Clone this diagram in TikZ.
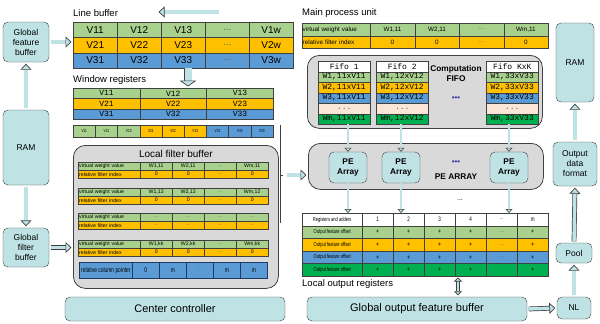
\documentclass[tikz,border=0pt]{standalone}
\usepackage{fontspec}
\setmainfont{Liberation Sans}
\setsansfont{Liberation Sans}
\setmonofont{Liberation Mono}
\usetikzlibrary{positioning,arrows.meta,calc}

\definecolor{cgreen}{HTML}{A9D18E}
\definecolor{corange}{HTML}{FFC000}
\definecolor{cblue}{HTML}{5B9BD5}
\definecolor{cdgreen}{HTML}{00B050}
\definecolor{cpink}{HTML}{FBE5D6}
\definecolor{cteal}{HTML}{BFE3E5}
\definecolor{cpanel}{HTML}{D9D9D9}
\definecolor{cline}{HTML}{404040}
\definecolor{cnavy}{HTML}{1F3864}
\definecolor{cdots}{HTML}{3333A0}

\newcommand{\skipdots}{\textcolor{black!60}{...}}
\newcommand{\squeeze}[1]{\scalebox{0.7}[1]{#1}}

\begin{document}
\begin{tikzpicture}[
	x=1pt, y=-1pt,
	font=\sffamily,
	unit/.style={
		draw=cline,
		fill=cteal,
		rounded corners=5pt,
		align=center,
		inner sep=1pt,
		font=\sffamily\fontsize{8.5}{10}\selectfont,
	},
	panel/.style={
		draw=cline,
		fill=cpanel,
		line width=0.8pt,
		rounded corners=12pt,
		anchor=north west,
	},
	cell/.style={
		draw=cline,
		inner sep=0pt,
		anchor=north west,
		font=\sffamily\fontsize{5.2}{6}\selectfont,
	},
	vcell/.style={cell, font=\sffamily\fontsize{10}{11}\selectfont},
	mcell/.style={cell, font=\ttfamily\fontsize{8}{9}\selectfont},
	lcell/.style={cell, text width=60pt, align=left},
	heading/.style={anchor=west, inner sep=1pt, font=\sffamily\fontsize{9.5}{11}\selectfont},
	fat/.style={
		draw=cline,
		double=cteal,
		double distance=3.4pt,
		line width=0.7pt,
		shorten <=1.5pt,
		shorten >=1.5pt,
		-{Triangle[length=6pt, width=11pt, fill=cteal]},
	},
	slim/.style={
		draw=cline,
		double=cteal,
		double distance=1.8pt,
		line width=0.55pt,
		-{Triangle[length=4pt, width=7pt, fill=cteal]},
	},
]
\useasboundingbox (0,0) rectangle (600,324);

% --- Left column: memories ---
\node[unit, minimum width=46pt, minimum height=40pt] (gfeat) at (26,42) {Global\\feature\\buffer};
\node[unit, minimum width=46pt, minimum height=75pt] (ramL) at (26,147.5) {RAM};
\node[unit, minimum width=46pt, minimum height=39pt] (gfilt) at (26,247.5) {Global\\filter\\buffer};
\node[unit, minimum width=220pt, minimum height=24pt, font=\sffamily\fontsize{11}{12}\selectfont] (ctrl) at (175,309) {Center controller};

\draw[fat] (ramL.north) -- (gfeat.south);
\draw[fat] (ramL.south) -- (gfilt.north);

% --- Line buffer ---
\node[heading] (lbtitle) at (72,13) {Line buffer};
\foreach \row/\clr in {1/cgreen,2/corange,3/cblue}
	\foreach \col in {1,...,5}
		\node[vcell, fill=\clr, minimum width=44pt, minimum height=15.3pt] (lb\row\col) at (29+44*\col,6.7+15.3*\row)
			{\ifcase\col\or V\row1\or V\row2\or V\row3\or\skipdots\or V\row w\fi};

\coordinate (shiftA) at (220,12);
\coordinate (shiftB) at (157,12);
\draw[fat] (shiftA) -- (shiftB);
\draw[fat] (gfeat.east) -- (gfeat.east -| lb21.west);

% --- Window registers ---
\node[heading] (wrtitle) at (72,80) {Window registers};
\foreach \row/\clr in {1/cgreen,2/corange,3/cblue}
	\foreach \col in {1,2,3}
		\node[mcell, fill=\clr, minimum width=66.7pt, minimum height=10.3pt] (wr\row\col) at (6.3+66.7*\col,77.7+10.3*\row) {V\row\col};

\draw[fat, double distance=7pt, -{Triangle[length=6pt, width=17pt, fill=cteal]}, shorten <=0pt] (lb33.south -| 188,0) -- (wr12.north -| 188,0);

% --- Flattened window ---
\foreach \t/\clr [count=\j] in {V11/cgreen,V12/cgreen,V13/cgreen,V21/corange,V22/corange,V23/corange,V31/cblue,V32/cblue,V33/cblue}
	\node[cell, fill=\clr, minimum width=22.2pt, minimum height=12pt, font=\sffamily\fontsize{4.5}{5}\selectfont] (fl\j) at (50.8+22.2*\j,125) {\squeeze{\t}};

% --- Local filter buffer ---
\node[panel, minimum width=205pt, minimum height=143pt] (lfb) at (73,145) {};
\node[font=\sffamily\fontsize{10}{11}\selectfont, below=2pt of lfb.north] (lfbtitle) {Local filter buffer};

\foreach \k/\yy/\s in {1/162/11,2/188/12,3/213/00,4/240/kk} {
	\node[lcell, fill=cgreen, minimum width=62pt, minimum height=8pt] (lfv\k) at (78,\yy) {virtual weight value};
	\node[lcell, fill=corange, minimum width=62pt, minimum height=8pt] (lfi\k) at (78,\yy+8) {relative filter index};
	\foreach \m [count=\j] in {1,2,0,m} {
		\node[cell, fill=cgreen, minimum width=32pt, minimum height=8pt] (lfv\k-\j) at (108+32*\j,\yy)
			{\ifnum\numexpr(\k-3)*(\j-3)\relax=0 \skipdots\else W\m,\s\fi};
		\node[cell, fill=corange, minimum width=32pt, minimum height=8pt] (lfi\k-\j) at (108+32*\j,\yy+8)
			{\ifnum\numexpr(\k-3)*(\j-3)\relax=0 \skipdots\else 0\fi};
	}
}

\node[cell, fill=cblue, draw=cnavy, line width=0.7pt, minimum width=53pt, minimum height=16pt, font=\sffamily\fontsize{7}{8}\selectfont] (rcp) at (79,262) {\squeeze{relative column pointer}};
\foreach \t [count=\j] in {0,m,\skipdots,m,m}
	\node[cell, fill=cblue, draw=cnavy, line width=0.7pt, minimum width=27pt, minimum height=16pt, font=\sffamily\fontsize{7}{8}\selectfont] (rcp\j) at (105+27*\j,262) {\squeeze{\t}};

\draw[fat] (gfilt.east) -- (gfilt.east -| lfb.west);

% --- Bracket into the PE array ---
\coordinate (brkTop) at (280,125);
\coordinate (brkBot) at (280,223);
\coordinate (brkMid) at (280,175);
\draw[cline, line width=0.6pt] (brkTop) -- (brkBot);
\draw[cline, line width=0.6pt] (brkMid) -- ++(3,0);

% --- Main process unit ---
\node[heading] (mputitle) at (301,13) {Main process unit};
\node[lcell, fill=cgreen, text width=67pt, minimum width=68pt, minimum height=12.5pt, font=\sffamily\fontsize{6.3}{7}\selectfont] (mv) at (302,23) {virtual weight value};
\node[lcell, fill=corange, text width=67pt, minimum width=68pt, minimum height=12.5pt, font=\sffamily\fontsize{6.3}{7}\selectfont] (mi) at (302,35.5) {relative filter index};
\foreach \m [count=\j] in {1,2,0,m} {
	\node[cell, fill=cgreen, minimum width=44.5pt, minimum height=12.5pt, font=\sffamily\fontsize{6.3}{7}\selectfont] (mv\j) at (325.5+44.5*\j,23)
		{\ifnum\j=3 \skipdots\else W\m,11\fi};
	\node[cell, fill=corange, minimum width=44.5pt, minimum height=12.5pt, font=\sffamily\fontsize{6.3}{7}\selectfont] (mi\j) at (325.5+44.5*\j,35.5)
		{\ifnum\j=3 \skipdots\else 0\fi};
}

% --- Computation FIFO ---
\node[panel, minimum width=235pt, minimum height=73pt] (fifobox) at (307,55) {};
\foreach \f/\xx/\fname/\fidx/\fval in {1/318/Fifo 1/11/V11, 2/376/Fifo 2/12/V12, 3/486/Fifo KxK/33/V33} {
	\node[mcell, fill=white, minimum width=52pt, minimum height=10.5pt] (fifo\f) at (\xx,61) {\fname};
	\foreach \m/\clr [count=\j] in {1/cgreen,2/corange,3/cblue}
		\node[mcell, fill=\clr, minimum width=52pt, minimum height=10.5pt] (fifo\f-\j) at (\xx,61+10.5*\j) {W\m,\fidx x\fval};
	\node[mcell, fill=cpink, minimum width=52pt, minimum height=10.5pt] (fifo\f-4) at (\xx,103) {\skipdots};
	\node[mcell, fill=cdgreen, minimum width=52pt, minimum height=10.5pt] (fifo\f-5) at (\xx,113.5) {Wm,\fidx x\fval};
}
\node[align=center, font=\sffamily\bfseries\fontsize{8.3}{10}\selectfont] (fifotitle) at (456,74) {Computation\\FIFO};
\node[text=cdots, font=\fontsize{8}{9}\selectfont] (fifodots) at (456,99) {\textbullet\textbullet\textbullet};

% --- PE array ---
\node[panel, minimum width=235pt, minimum height=46pt] (pebox) at (308,143) {};
\foreach \p/\xx in {1/348,2/401,3/509}
	\node[unit, minimum width=38pt, minimum height=31pt, font=\sffamily\bfseries\fontsize{8.3}{10}\selectfont] (pe\p) at (\xx,167.5) {PE\\Array};
\node[text=cdots, font=\fontsize{8}{9}\selectfont] (pedots) at (456,163) {\textbullet\textbullet\textbullet};
\node[font=\sffamily\bfseries\fontsize{8.3}{10}\selectfont] (petitle) at (456,177) {PE ARRAY};

\draw[fat] (brkMid) ++(5,0) coordinate (brkOut) -- (brkOut -| pebox.west);
\foreach \p in {1,2,3}
	\draw[slim] (pe\p |- fifo\p-5.south) -- (pe\p.north);

% --- Local output registers ---
\node[cell, fill=white, minimum width=60pt, minimum height=12.6pt, font=\sffamily\fontsize{5.8}{7}\selectfont] (oh) at (302,213) {\squeeze{Registers and adders}};
\foreach \t [count=\j] in {1,2,3,4,\skipdots,m}
	\node[cell, fill=white, minimum width=31pt, minimum height=12.6pt, font=\sffamily\fontsize{6.5}{7}\selectfont] (oh\j) at (331+31*\j,213) {\squeeze{\t}};
\foreach \row/\clr in {1/cgreen,2/corange,3/cblue,4/cdgreen} {
	\node[cell, fill=\clr, minimum width=60pt, minimum height=12.6pt, font=\sffamily\fontsize{5.8}{7}\selectfont] (or\row) at (302,213+12.6*\row) {\squeeze{Output feature offset}};
	\foreach \j in {1,...,6}
		\node[cell, fill=\clr, minimum width=31pt, minimum height=12.6pt, font=\sffamily\fontsize{6}{7}\selectfont] (or\row-\j) at (331+31*\j,213+12.6*\row) {\ifnum\j=5 \skipdots\else+\fi};
}
\node[font=\sffamily\fontsize{7}{8}\selectfont] (outdots) at (460,200) {...};
\foreach \p in {1,2,3}
	\draw[slim] (pe\p.south) -- (pe\p |- oh.north);

\node[heading] (lortitle) at (301,284) {Local output registers};

% --- Output path ---
\node[unit, minimum width=220pt, minimum height=24pt, font=\sffamily\fontsize{11}{12}\selectfont] (gofb) at (417,309) {Global output feature buffer};
\node[unit, minimum width=34pt, minimum height=22pt] (nl) at (574,308) {NL};
\node[unit, minimum width=36pt, minimum height=20pt] (pool) at (574,253) {Pool};
\node[unit, minimum width=44pt, minimum height=44pt] (odf) at (575,164) {Output\\data\\format};
\node[unit, minimum width=38pt, minimum height=79pt] (ramR) at (575,62.5) {RAM};

\coordinate (lorA) at (458,276);
\draw[fat, {Triangle[length=4pt, width=8pt, fill=cteal]}-{Triangle[length=4pt, width=8pt, fill=cteal]}, double distance=2.4pt] (lorA) -- (lorA |- gofb.north);
\draw[fat] (gofb.east) -- (nl.west);
\draw[fat] (nl.north) -- (pool.south);
\draw[fat] (pool.north) -- (odf.south);
\draw[fat] (odf.north) -- (ramR.south);

\end{tikzpicture}
\end{document}
